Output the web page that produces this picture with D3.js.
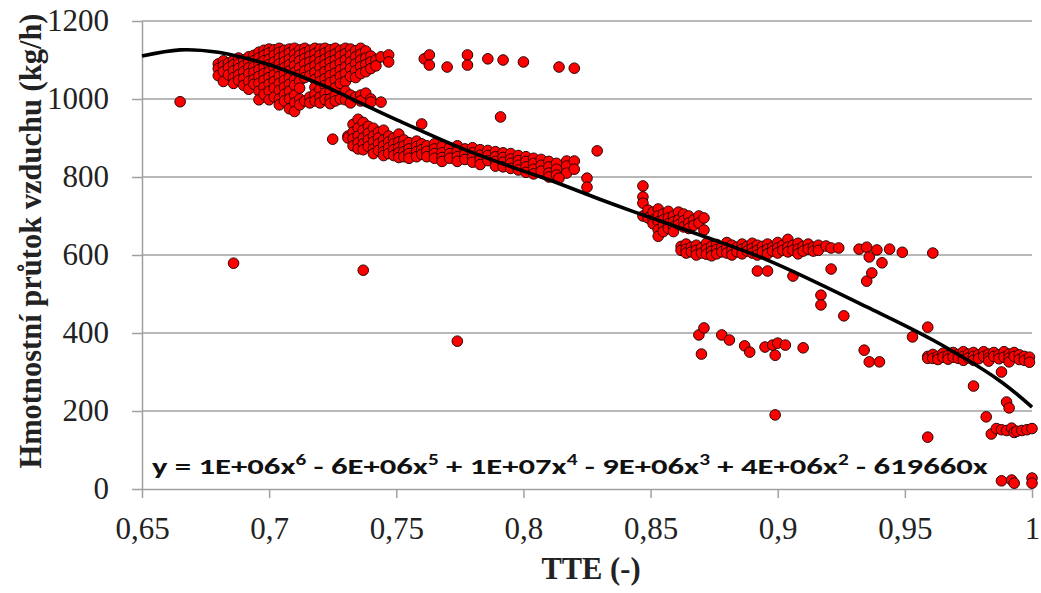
<!DOCTYPE html>
<html>
<head>
<meta charset="utf-8">
<script src="https://cdn.jsdelivr.net/npm/d3@7/dist/d3.min.js"></script>
<style>
    body { margin: 0; background: #ffffff; }
    .tick text { font-family: "Liberation Serif", "Times New Roman", serif; font-size: 31px; fill: #222; }
    .axis path, .axis line { stroke: #a0a0a0; stroke-width: 1.5px; }
    .grid line { stroke: #a0a0a0; stroke-width: 1.5px; }
    .dot { fill: #ff0000; stroke: #2a0505; stroke-width: 1px; }
    .trend { fill: none; stroke: #000; stroke-width: 3.6px; }
    .title { font-family: "Liberation Serif", "Times New Roman", serif; font-weight: bold; font-size: 30.5px; fill: #222; }
    .eq { font-family: Carlito, Calibri, "Open Sans", sans-serif; font-weight: bold; font-size: 23px; fill: #111; }
</style>
</head>
<body>
<div id="chart"></div>
<script>

// axis ticks
let xTicks = [0.65, 0.7, 0.75, 0.8, 0.85, 0.9, 0.95, 1];
let xTickLabels = ["0,65", "0,7", "0,75", "0,8", "0,85", "0,9", "0,95", "1"];
let yTicks = [0, 200, 400, 600, 800, 1000, 1200];

// measured points, grouped by TTE value: [tte, [air flow values]]
let groupTop = [
    [0.680, [1090, 1078, 1060]],
    [0.682, [1098, 1085, 1070, 1045]],
    [0.684, [1092, 1080, 1062]],
    [0.686, [1100, 1088, 1072, 1055, 1040]],
    [0.688, [1105, 1090, 1078, 1062, 1048]],
    [0.690, [1100, 1085, 1070, 1052, 1035]],
    [0.692, [1108, 1095, 1080, 1065, 1045, 1025]],
    [0.694, [1112, 1098, 1082, 1068, 1050, 1038]],
    [0.696, [1120, 1105, 1090, 1075, 1058, 1040, 1020, 998]],
    [0.698, [1125, 1112, 1098, 1082, 1065, 1048, 1030, 1012]],
    [0.700, [1128, 1118, 1102, 1088, 1070, 1055, 1038, 1020, 998]],
    [0.702, [1126, 1112, 1095, 1080, 1062, 1045, 1028, 1005]],
    [0.704, [1130, 1120, 1105, 1090, 1075, 1058, 1040, 1022, 1000, 985]],
    [0.706, [1125, 1110, 1095, 1080, 1065, 1048, 1030, 1012, 995]],
    [0.708, [1128, 1118, 1102, 1088, 1072, 1055, 1038, 1020, 1000, 975]],
    [0.710, [1130, 1115, 1100, 1085, 1068, 1050, 1035, 1010, 990, 968]],
    [0.712, [1126, 1112, 1098, 1080, 1062, 1046, 1028, 1000, 985]],
    [0.714, [1130, 1118, 1104, 1090, 1072, 1055, 995]],
    [0.716, [1125, 1110, 1095, 1078, 1060, 1005, 990]],
    [0.718, [1130, 1116, 1100, 1085, 1068, 1050, 1030, 1012, 995]],
    [0.720, [1128, 1112, 1096, 1080, 1062, 1045, 1025, 1005, 990]],
    [0.722, [1130, 1118, 1102, 1088, 1070, 1052, 1035, 1015, 998]],
    [0.724, [1126, 1110, 1095, 1078, 1060, 1042, 1020, 1000, 988]],
    [0.726, [1130, 1115, 1100, 1085, 1066, 1048, 1028, 1008, 995]],
    [0.728, [1125, 1110, 1092, 1075, 1058, 1040, 1000]],
    [0.730, [1130, 1116, 1100, 1082, 1065, 1045, 1020, 998]],
    [0.732, [1128, 1112, 1095, 1078, 1058, 1010, 990]],
    [0.734, [1124, 1108, 1090, 1072, 1055, 1005]],
    [0.736, [1130, 1115, 1100, 1083, 1065, 1010, 995]],
    [0.738, [1123, 1105, 1088, 1070, 1015]],
    [0.740, [1110, 1095, 1078, 1000, 992]],
    [0.742, [1100, 1085]],
    [0.744, [1108, 992]],
    [0.747, [1113, 1095]]
];

let groupBand = [
    [0.725, [897]],
    [0.731, [905, 900]],
    [0.733, [935, 915, 898, 880]],
    [0.735, [948, 925, 905, 888, 872]],
    [0.737, [940, 920, 900, 885, 870]],
    [0.739, [930, 912, 895, 878]],
    [0.741, [925, 905, 890, 872, 860]],
    [0.743, [915, 900, 885, 868]],
    [0.745, [920, 895, 880, 865, 855]],
    [0.747, [905, 890, 875, 860]],
    [0.749, [900, 885, 870, 855]],
    [0.751, [910, 890, 875, 862, 850]],
    [0.753, [895, 880, 865, 852]],
    [0.755, [888, 872, 860, 848]],
    [0.758, [892, 878, 865, 852]],
    [0.760, [936, 885, 870, 858]],
    [0.762, [880, 866, 852]],
    [0.765, [885, 872, 860, 848]],
    [0.768, [878, 862, 850, 840]],
    [0.771, [875, 860, 848]],
    [0.774, [880, 865, 852, 840]],
    [0.777, [872, 858, 845]],
    [0.780, [875, 862, 850, 838]],
    [0.783, [870, 856, 845, 832]],
    [0.786, [868, 855, 842]],
    [0.789, [865, 852, 840, 828]],
    [0.792, [862, 850, 838, 826]],
    [0.795, [860, 846, 835, 822]],
    [0.798, [855, 842, 830, 818]],
    [0.801, [852, 840, 826, 812]],
    [0.804, [848, 835, 820, 808]],
    [0.807, [845, 830, 815]],
    [0.810, [840, 826, 810, 800]],
    [0.813, [835, 820, 805]],
    [0.817, [841, 828, 810]],
    [0.820, [841, 820]],
    [0.825, [797, 774]]
];

let groupMid = [
    [0.847, [777, 749, 733, 700]],
    [0.849, [715, 695]],
    [0.851, [710, 690, 680]],
    [0.853, [718, 700, 685, 665, 648]],
    [0.855, [705, 690, 675, 660]],
    [0.857, [712, 695, 680, 668]],
    [0.859, [700, 685, 672, 660]],
    [0.861, [710, 690, 678]],
    [0.863, [705, 688, 672]],
    [0.865, [700, 682, 668]],
    [0.867, [690, 676]],
    [0.869, [700, 682]],
    [0.871, [695, 664]]
];

let groupFlat = [
    [0.862, [622, 612]],
    [0.864, [628, 615, 605]],
    [0.866, [620, 608]],
    [0.868, [625, 612, 600]],
    [0.870, [618, 605]],
    [0.872, [630, 615, 602]],
    [0.874, [622, 610, 598]],
    [0.876, [627, 614, 603]],
    [0.878, [620, 608]],
    [0.880, [632, 618, 605]],
    [0.882, [625, 612, 600]],
    [0.884, [620, 608]],
    [0.886, [628, 615, 603]],
    [0.888, [622, 610]],
    [0.890, [630, 617, 605]],
    [0.892, [625, 612, 600, 559]],
    [0.894, [622, 608]],
    [0.896, [628, 615, 603, 559]],
    [0.898, [620, 610]],
    [0.900, [632, 618, 605]],
    [0.902, [625, 612]],
    [0.904, [640, 620, 608]],
    [0.906, [625, 612, 546]],
    [0.908, [630, 615, 603]],
    [0.910, [622, 610]],
    [0.912, [628, 615]],
    [0.914, [620, 610]],
    [0.916, [625, 612]],
    [0.917, [497, 472]],
    [0.919, [623]],
    [0.921, [618, 564]],
    [0.924, [618]],
    [0.926, [444]],
    [0.932, [615]],
    [0.935, [620, 533]],
    [0.936, [595]],
    [0.937, [554]],
    [0.939, [613]],
    [0.941, [580]],
    [0.944, [615]],
    [0.949, [607]],
    [0.961, [605]]
];

let groupLow = [
    [0.869, [395]],
    [0.870, [346]],
    [0.871, [413]],
    [0.878, [395]],
    [0.881, [382]],
    [0.887, [367]],
    [0.889, [351]],
    [0.895, [364]],
    [0.898, [369]],
    [0.899, [343, 190]],
    [0.900, [374]],
    [0.903, [369]],
    [0.910, [362]],
    [0.934, [356]],
    [0.936, [326]],
    [0.940, [326]],
    [0.953, [390]],
    [0.959, [415, 133]]
];

let groupTail = [
    [0.959, [340, 335]],
    [0.961, [345, 335]],
    [0.963, [340, 332]],
    [0.965, [348, 338]],
    [0.967, [342, 333]],
    [0.969, [350, 338]],
    [0.971, [345, 335]],
    [0.973, [352, 340, 330]],
    [0.975, [346, 336]],
    [0.977, [350, 340, 330, 264]],
    [0.979, [344, 334]],
    [0.981, [352, 340]],
    [0.982, [185]],
    [0.983, [346, 336, 328]],
    [0.984, [141]],
    [0.985, [350, 340]],
    [0.986, [155]],
    [0.987, [344, 334]],
    [0.988, [300, 152, 21]],
    [0.989, [352, 338]],
    [0.990, [223, 150]],
    [0.991, [346, 336, 326, 208]],
    [0.992, [156, 23]],
    [0.993, [350, 340, 145, 15]],
    [0.994, [148]],
    [0.995, [344, 332]],
    [0.996, [150]],
    [0.997, [340, 330]],
    [0.998, [152]],
    [0.999, [338, 325]],
    [1.000, [155, 28, 15]]
];

let groupOther = [
    [0.665, [993]],
    [0.686, [579]],
    [0.737, [561]],
    [0.761, [1103]],
    [0.763, [1113, 1087]],
    [0.770, [1082]],
    [0.774, [379]],
    [0.778, [1113, 1087]],
    [0.786, [1103]],
    [0.791, [954]],
    [0.792, [1100]],
    [0.800, [1095]],
    [0.814, [1082, 797]],
    [0.820, [1079]],
    [0.829, [867]]
];

// polynomial trend line
let trendX = [0.65, 0.665, 0.68, 0.69, 0.70, 0.72, 0.74, 0.75, 0.777, 0.80, 0.81, 0.83, 0.843, 0.87, 0.896, 0.935, 0.961, 0.987, 1.0];
let trendY = [1110, 1126, 1120, 1106, 1088, 1038, 977, 947, 870, 815, 793, 743, 712, 650, 587, 467, 382, 279, 210];

let equationParts = [
    ["y = 1E+06x", "6"], [" - 6E+06x", "5"], [" + 1E+07x", "4"],
    [" - 9E+06x", "3"], [" + 4E+06x", "2"], [" - 619660x", ""]
];


class ScatterTrend {

    constructor(_parentElement, _groups) {
        this.parentElement = _parentElement;
        this.groups = _groups;
        this.initVis();
    }

    initVis() {
        let vis = this;

        vis.margin = { top: 21, right: 8, bottom: 104, left: 142 };
        vis.width = 1041 - vis.margin.left - vis.margin.right;
        vis.height = 593 - vis.margin.top - vis.margin.bottom;

        vis.root = d3.select("#" + vis.parentElement).append("svg")
            .attr("width", 1041)
            .attr("height", 593);

        vis.svg = vis.root.append("g")
            .attr("transform", "translate(" + vis.margin.left + "," + vis.margin.top + ")");

        vis.x = d3.scaleLinear()
            .domain([0.65, 1])
            .range([0, vis.width - 1]);

        vis.y = d3.scaleLinear()
            .domain([0, 1200])
            .range([vis.height, 0]);

        // gridlines
        vis.svg.append("g")
            .attr("class", "grid")
            .selectAll("line")
            .data(yTicks.filter(d => d > 0))
            .enter().append("line")
            .attr("x1", 0)
            .attr("x2", vis.x(1))
            .attr("y1", d => vis.y(d))
            .attr("y2", d => vis.y(d));

        vis.yAxis = d3.axisLeft(vis.y)
            .tickValues(yTicks)
            .tickSize(10)
            .tickPadding(23)
            .tickSizeOuter(0)
            .tickFormat(d3.format("d"));

        vis.xAxis = d3.axisBottom(vis.x)
            .tickValues(xTicks)
            .tickSize(9)
            .tickPadding(19)
            .tickSizeOuter(0)
            .tickFormat((d, i) => xTickLabels[i]);

        vis.svg.append("g")
            .attr("class", "y-axis axis")
            .call(vis.yAxis);

        vis.svg.append("g")
            .attr("class", "x-axis axis")
            .attr("transform", "translate(0," + vis.height + ")")
            .call(vis.xAxis);

        // axis titles
        vis.root.append("text")
            .attr("class", "title")
            .attr("transform", "rotate(-90)")
            .attr("x", -241)
            .attr("y", 41)
            .style("text-anchor", "middle")
            .text("Hmotnostní průtok vzduchu (kg/h)");

        vis.root.append("text")
            .attr("class", "title")
            .attr("x", 591)
            .attr("y", 579)
            .style("text-anchor", "middle")
            .text("TTE (-)");

        vis.wrangleData();
    }

    wrangleData() {
        let vis = this;
        vis.displayData = [];
        vis.groups.forEach(g => {
            g.forEach(col => {
                col[1].forEach(v => vis.displayData.push({ tte: col[0], flow: v }));
            });
        });
        vis.trendData = trendX.map((t, i) => ({ tte: t, flow: trendY[i] }));
        vis.updateVis();
    }

    updateVis() {
        let vis = this;

        vis.svg.append("g").selectAll(".dot")
            .data(vis.displayData)
            .enter().append("circle")
            .attr("class", "dot")
            .attr("r", 5.3)
            .attr("cx", d => vis.x(d.tte))
            .attr("cy", d => vis.y(d.flow));

        let line = d3.line()
            .x(d => vis.x(d.tte))
            .y(d => vis.y(d.flow))
            .curve(d3.curveCatmullRom);

        vis.svg.append("path")
            .datum(vis.trendData)
            .attr("class", "trend")
            .attr("d", line);

        // equation label
        let eq = vis.root.append("text")
            .attr("class", "eq")
            .attr("x", 152)
            .attr("y", 474);

        let raised = false;
        equationParts.forEach(p => {
            eq.append("tspan")
                .attr("dy", raised ? 9 : 0)
                .text(p[0]);
            raised = false;
            if (p[1] !== "") {
                eq.append("tspan")
                    .attr("dy", -9)
                    .style("font-size", "15px")
                    .text(p[1]);
                raised = true;
            }
        });

        let w = eq.node().getComputedTextLength();
        let sx = (988 - 152) / w;
        eq.attr("transform", "translate(152,0) scale(" + sx + ",1) translate(-152,0)");
    }
}

let chart = new ScatterTrend("chart",
    [groupTop, groupBand, groupMid, groupFlat, groupLow, groupTail, groupOther]);

</script>
</body>
</html>
